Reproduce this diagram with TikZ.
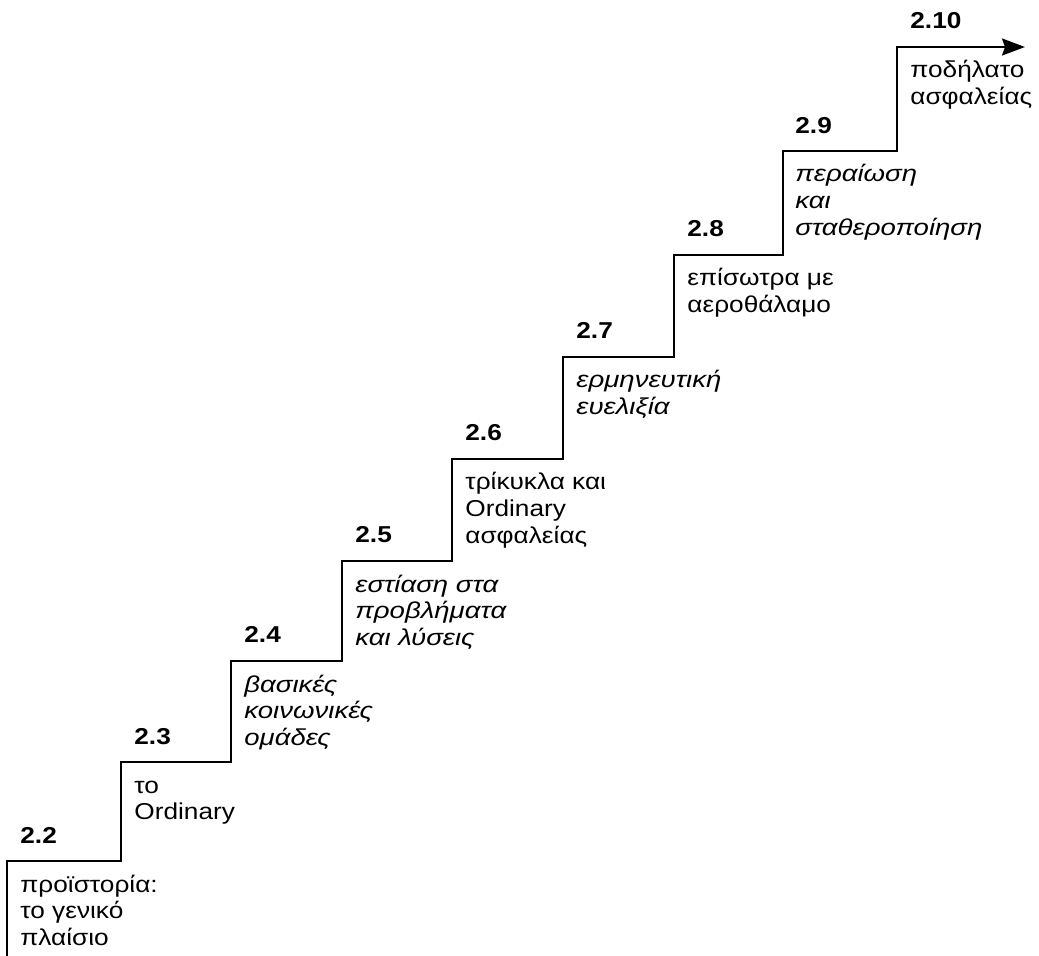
\documentclass[tikz,border=0pt]{standalone}
\usepackage{fontspec}
\setmainfont{Liberation Sans}[FakeStretch=1.14, ItalicFeatures={FakeStretch=1.2}]
\usetikzlibrary{arrows.meta}
\begin{document}
\begin{tikzpicture}[x=0.5pt, y=-0.5pt,
  every node/.style={font=\fontsize{11.5}{13.35}\selectfont, inner sep=0pt},
  stair/.style={line width=0.9pt, -{Stealth[length=11.5pt,width=8.5pt,inset=1.5pt]}},
  num/.style={anchor=base west, font=\fontsize{11.5}{13.35}\selectfont\bfseries},
  desc/.style={anchor=base west, align=left},
  idesc/.style={desc, font=\fontsize{11.5}{13.35}\selectfont\itshape}]
  \useasboundingbox (0,0) rectangle (1039,956);
  % step corners
  \coordinate (base) at (7,956);
  \coordinate (c2) at (7,861);
  \coordinate (c3) at (121,762);
  \coordinate (c4) at (231,661);
  \coordinate (c5) at (342,561);
  \coordinate (c6) at (452,459);
  \coordinate (c7) at (563,357);
  \coordinate (c8) at (674,255);
  \coordinate (c9) at (783,151);
  \coordinate (c10) at (897,47);
  \coordinate (tip) at (1025,47);
  \draw[stair] (base) -- (c2) -| (c3) -| (c4) -| (c5) -| (c6) -| (c7) -| (c8) -| (c9) -| (c10) -- (tip);
  % section numbers
  \node[num] (n2) at (20,843) {2.2};
  \node[num] (n3) at (134,744) {2.3};
  \node[num] (n4) at (244,643) {2.4};
  \node[num] (n5) at (355,543) {2.5};
  \node[num] (n6) at (465,441) {2.6};
  \node[num] (n7) at (576,339) {2.7};
  \node[num] (n8) at (687,237) {2.8};
  \node[num] (n9) at (795,134) {2.9};
  \node[num] (n10) at (910,29) {2.10};
  % step texts (anchored at the last line)
  \node[desc] (t2) at (20,945.4) {προϊστορία:\\το γενικό\\πλαίσιο};
  \node[desc] (t3) at (134,819.7) {το\\Ordinary};
  \node[idesc] (t4) at (244,745.4) {βασικές\\κοινωνικές\\ομάδες};
  \node[idesc] (t5) at (355,645.4) {εστίαση στα\\προβλήματα\\και λύσεις};
  \node[desc] (t6) at (465,543.4) {τρίκυκλα και\\Ordinary\\ασφαλείας};
  \node[idesc] (t7) at (576,414.7) {ερμηνευτική\\ευελιξία};
  \node[desc] (t8) at (687,312.7) {επίσωτρα με\\αεροθάλαμο};
  \node[idesc] (t9) at (795,235.4) {περαίωση\\και\\σταθεροποίηση};
  \node[desc] (t10) at (910,104.7) {ποδήλατο\\ασφαλείας};
\end{tikzpicture}
\end{document}
